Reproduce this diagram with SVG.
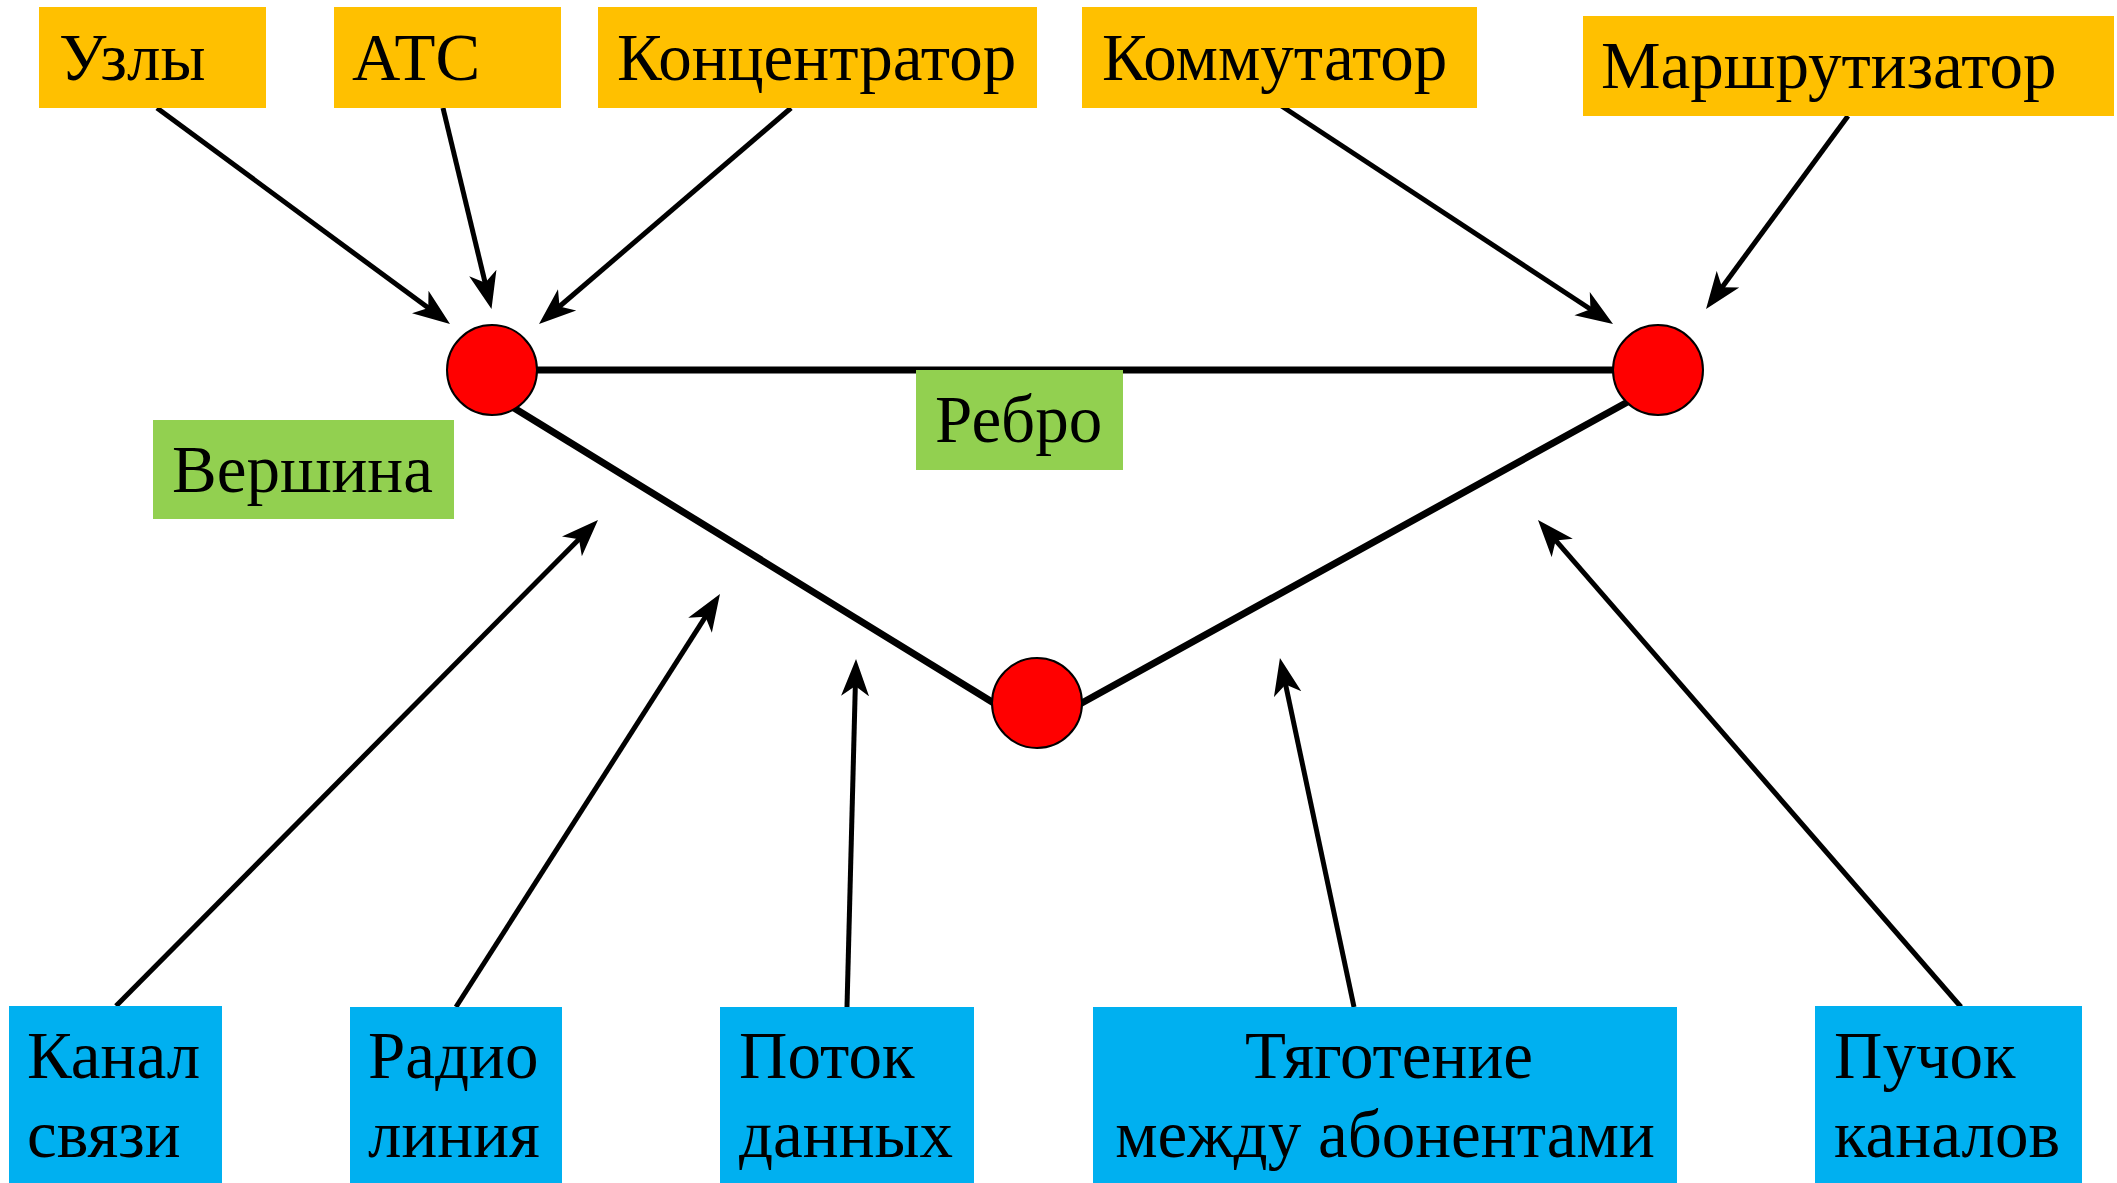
<svg xmlns="http://www.w3.org/2000/svg" width="2117" height="1183" viewBox="0 0 2117 1183">
<style>
text{font-family:'Liberation Serif','DejaVu Serif',serif;font-size:67px;fill:#000}
.or{fill:#FFC000}
.gr{fill:#92D050}
.bl{fill:#00B0F0}
.v{fill:#FF0000;stroke:#000;stroke-width:2}
.e{stroke:#000;stroke-width:7;fill:none}
.a{stroke:#000;stroke-width:5;fill:none;marker-end:url(#ah)}
</style>
<defs>
<marker id="ah" markerUnits="userSpaceOnUse" markerWidth="38" markerHeight="30" viewBox="0 -15 38 30" refX="17" refY="0" orient="auto">
<path d="M37,0 L0,-14 L10,0 L0,14 Z" fill="#000"/>
</marker>
</defs>
<rect width="2117" height="1183" fill="#fff"/>
<g id="edges">
<line class="e" x1="492" y1="370" x2="1658" y2="370"/>
<line class="e" x1="514" y1="408" x2="997" y2="705"/>
<line class="e" x1="1080" y1="704" x2="1633" y2="399"/>
</g>
<g id="connectors">
<line class="a" x1="157" y1="108" x2="433.9" y2="312.1"/>
<line class="a" x1="443" y1="108" x2="486.8" y2="289.6"/>
<line class="a" x1="791" y1="108" x2="554.2" y2="311"/>
<line class="a" x1="1280" y1="105" x2="1596.3" y2="313"/>
<line class="a" x1="1848" y1="116" x2="1717.9" y2="292.9"/>
<line class="a" x1="116" y1="1006" x2="583.9" y2="534.2"/>
<line class="a" x1="456" y1="1007" x2="709.2" y2="610.9"/>
<line class="a" x1="847" y1="1007" x2="855.5" y2="679"/>
<line class="a" x1="1354" y1="1007" x2="1284.1" y2="677.6"/>
<line class="a" x1="1961" y1="1007" x2="1551.1" y2="535.1"/>
</g>
<g id="vertex-left"><circle class="v" cx="492" cy="370" r="45"/></g>
<g id="vertex-right"><circle class="v" cx="1658" cy="370" r="45"/></g>
<g id="vertex-bottom"><circle class="v" cx="1037" cy="703" r="45"/></g>
<g id="uzly"><rect class="or" x="39" y="7" width="227" height="101"/><text x="59" y="80">Узлы</text></g>
<g id="ats"><rect class="or" x="334" y="7" width="227" height="101"/><text x="352" y="80">АТС</text></g>
<g id="koncentrator"><rect class="or" x="598" y="7" width="439" height="101"/><text x="617" y="80">Концентратор</text></g>
<g id="kommutator"><rect class="or" x="1082" y="7" width="395" height="101"/><text x="1102" y="80">Коммутатор</text></g>
<g id="marshrutizator"><rect class="or" x="1583" y="16" width="531" height="100"/><text x="1601" y="88">Маршрутизатор</text></g>
<g id="vershina"><rect class="gr" x="153" y="420" width="301" height="99"/><text x="172" y="492">Вершина</text></g>
<g id="rebro"><rect class="gr" x="916" y="370" width="207" height="100"/><text x="935" y="442">Ребро</text></g>
<g id="kanal"><rect class="bl" x="9" y="1006" width="213" height="177"/><text x="27" y="1078">Канал</text><text x="27" y="1157">связи</text></g>
<g id="radio"><rect class="bl" x="350" y="1007" width="212" height="176"/><text x="368" y="1078">Радио</text><text x="368" y="1157">линия</text></g>
<g id="potok"><rect class="bl" x="720" y="1007" width="254" height="176"/><text x="739" y="1078">Поток</text><text x="739" y="1157">данных</text></g>
<g id="tyagotenie"><rect class="bl" x="1093" y="1007" width="584" height="176"/><text x="1389" y="1078" text-anchor="middle">Тяготение</text><text x="1385" y="1157" text-anchor="middle">между абонентами</text></g>
<g id="puchok"><rect class="bl" x="1815" y="1006" width="267" height="177"/><text x="1834" y="1078">Пучок</text><text x="1834" y="1157">каналов</text></g>
</svg>
